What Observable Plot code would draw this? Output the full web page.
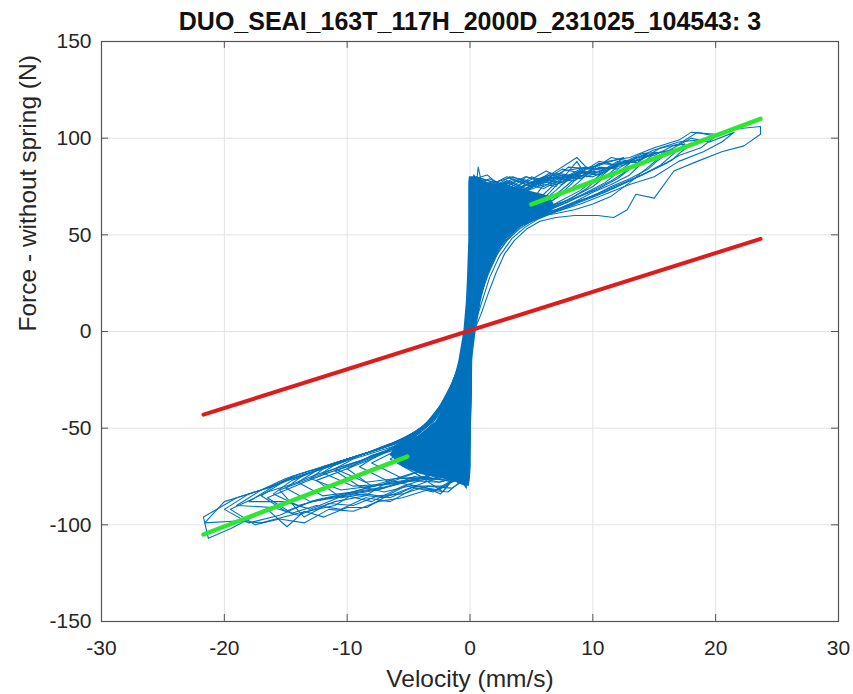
<!DOCTYPE html>
<html><head><meta charset="utf-8">
<script src="https://cdn.jsdelivr.net/npm/d3@7"></script>
<script src="https://cdn.jsdelivr.net/npm/@observablehq/plot@0.6"></script>
<style>html,body{margin:0;padding:0;background:#fff;} svg{display:block}</style>
</head><body><div id="chart"></div>
<script>
const title = "DUO_SEAI_163T_117H_2000D_231025_104543: 3";
const xLabel = "Velocity (mm/s)";
const yLabel = "Force - without spring (N)";
const xTicks = [-30, -20, -10, 0, 10, 20, 30];
const yTicks = [-150, -100, -50, 0, 50, 100, 150];

// measured cycles: flat [velocity, force, velocity, force, ...]
const cycle1 = [-0.2,-75, 0,-20, 0.15,45, 0.4,79, 1.4,81, 2.5,75, 3.5,78, 4.9,77, 6.5,81, 8.7,90, 9.6,84, 11.2,88, 13,90, 15,95, 17,99, 18,103, 20,102, 22,105, 23.65,106,
 23.65,102, 22.3,96, 20.5,93, 18.5,88, 16.6,83, 15,69, 13.5,71, 12.8,63, 11.7,59, 10.4,60, 8.5,60, 7,59, 5.7,57,
 4.6,53, 3.6,47, 2.8,40, 2.1,30, 1.5,20, 0.9,9, 0.3,0, -0.3,-9, -1,-21, -1.9,-33, -2.9,-43, -4,-50, -5.1,-54,
 -7,-60, -9,-64, -11,-69, -13,-72, -15,-76, -17,-82, -19,-86, -21.7,-96,
 -21.3,-107, -19.5,-102, -18,-97, -16.5,-92, -14.9,-101, -13.5,-93, -11.9,-96, -10,-91, -8.4,-91, -6.5,-84, -5,-79, -3.5,-81, -2.4,-84, -1.3,-76, -0.5,-78, -0.2,-75];
const cycle2 = [-0.1,-72, 0.05,-10, 0.2,60, 0.67,85, 1,75, 2.5,73, 4,79, 5.5,75, 7,82, 9,80, 10.5,87, 12,86, 14,92, 16,93, 18,100, 19.5,98, 21.5,103,
 20.5,98, 19,93, 17,88, 15,80, 13,76, 11,71, 9,66, 7,62, 5.5,58,
 4.5,54, 3.4,48, 2.4,39, 1.6,28, 1,16, 0.5,6, 0,-2, -0.6,-13, -1.4,-26, -2.4,-38, -3.5,-47, -4.8,-54,
 -6,-57, -8,-62, -10,-66, -12,-70, -14,-74, -16,-80, -18,-84, -20,-88, -21.6,-99,
 -19,-98, -17,-99, -14,-94, -11,-90, -9.5,-84, -7,-86, -4.5,-80, -2,-80, -0.8,-74, -0.1,-72];
const cycle3 = [-0.2,-70, 0,-5, 0.2,68, 0.4,77, 2,76, 3.5,73, 5,80, 6.5,77, 8,85, 10,84, 11.5,90, 13,88, 15,94, 17,97, 18.5,103, 20,101,
 18.8,95, 17,91, 16,87, 14,81, 12,75, 10,70, 8,65, 6,60, 5,57,
 4,53, 3,47, 2.1,39, 1.4,29, 0.8,17, 0.3,6, -0.2,-4, -0.7,-15, -1.5,-28, -2.5,-40, -3.6,-48, -5,-54,
 -6.5,-58, -8.5,-63, -10.5,-67, -12.5,-71, -14.5,-75, -16,-80, -18,-84, -20,-92,
 -18,-99, -15.5,-95, -13,-88, -10,-85, -8,-88, -5.5,-80, -3,-75, -1.5,-78, -0.5,-73, -0.2,-70];
const cycle4 = [-0.1,-76, 0,-40, 0.1,30, 0.3,80, 1.5,72, 3,76, 4.5,72, 6,79, 7.5,76, 9,83, 10.5,81, 12,87, 14,89, 15.5,95, 17,98, 18.5,99,
 17.2,93, 16.5,89, 15,84, 13,78, 11,72, 9,67, 7,62, 5,58,
 4,54, 3.1,48, 2.3,41, 1.5,30, 0.9,19, 0.4,8, -0.1,-1, -0.7,-14, -1.6,-29, -2.6,-41, -3.6,-49, -5,-55,
 -7,-60, -9,-64, -11,-68, -13,-73, -15,-77, -17,-82, -19,-90,
 -16,-91, -14,-95, -11,-88, -8.5,-85, -6.5,-77, -4.5,-80, -2,-74, -0.4,-78, -0.1,-76];
const cycle5 = [-0.2,-74, 0,-15, 0.2,55, 0.5,76, 1.5,71, 3,77, 4.5,73, 6,78, 7.5,81, 9,79, 10.5,85, 12,84, 13.5,90, 15,91, 16.5,96, 17.5,97,
 16.4,91, 15.5,86, 14,81, 12.5,77, 11,73, 9.5,69, 8,65, 6.5,62, 5,59,
 4,55, 3.1,50, 2.2,42, 1.5,32, 0.9,20, 0.4,9, 0,0, -0.5,-11, -1.2,-24, -2.1,-36, -3.2,-46, -4.5,-52,
 -6,-57, -8,-62, -10,-66, -12,-71, -14,-75, -16,-80, -18,-88,
 -15,-88, -13,-92, -10,-84, -7,-81, -4.5,-75, -2.5,-78, -0.2,-74];
const cycle6 = [-0.1,-71, 0.1,0, 0.2,70, 0.4,78, 1.5,75, 3,71, 4.5,76, 6,74, 7.5,79, 9,82, 10.5,83, 12,87, 13.5,88, 15,92, 16.5,94,
 15.2,88, 14.5,84, 13,79, 11.5,75, 10,70, 8.5,67, 7,63, 5.5,60, 4.5,57,
 3.6,53, 2.7,47, 1.9,39, 1.2,27, 0.6,14, 0.1,3, -0.4,-8, -1,-20, -1.8,-32, -2.8,-43, -4,-51,
 -5.5,-56, -7,-60, -9,-64, -11,-69, -13,-73, -15,-77, -17,-85,
 -15,-93, -12.5,-87, -9.5,-83, -7,-78, -4.5,-73, -2.2,-83, -1,-73, -0.1,-71];
const cycle7 = [-0.2,-73, 0,-25, 0.1,40, 0.3,81, 1.2,72, 2.5,77, 4,72, 5.5,77, 7,75, 8.7,88, 9.5,80, 11,84, 12.5,86, 14,90, 15,92,
 13.8,86, 13,81, 11.5,76, 10,72, 8.5,67, 7,63, 5.8,60, 4.8,57,
 3.9,54, 3,49, 2.2,42, 1.5,32, 0.8,18, 0.2,5, -0.3,-6, -0.9,-18, -1.7,-31, -2.7,-42, -3.8,-50, -5,-55,
 -6.5,-59, -8.5,-63, -10.5,-68, -12.5,-72, -14.5,-77, -16,-84,
 -14,-90, -11.5,-86, -9,-82, -6.5,-78, -4,-72, -2,-76, -0.5,-76, -0.2,-73];
const cycle8 = [-0.1,-77, 0.1,-30, 0.2,35, 0.5,80, 1.5,76, 3,72, 4.5,78, 6,75, 7.5,80, 9,82, 10.5,81, 12,86, 14,89,
 12.8,83, 12,79, 10.5,74, 9,70, 7.5,66, 6,62, 4.8,59,
 3.8,55, 2.9,50, 2.1,43, 1.4,33, 0.8,21, 0.3,8, -0.2,-3, -0.7,-15, -1.4,-28, -2.3,-39, -3.4,-48, -4.7,-54,
 -6,-58, -8,-62, -10,-66, -12,-71, -13.5,-74, -15,-81,
 -13,-88, -10.5,-85, -7.5,-82, -5,-77, -2.5,-78, -0.5,-74, -0.1,-77];
const cycle9 = [-0.2,-70, 0,-10, 0.2,62, 0.4,75, 1.5,73, 3,78, 4.5,74, 6,79, 7.5,77, 9,83, 10.5,82, 12,88, 13,87,
 11.8,81, 11,77, 9.5,72, 8,67, 6.5,63, 5,59,
 4,55, 3,49, 2.2,42, 1.4,31, 0.8,19, 0.3,7, -0.1,-3, -0.6,-14, -1.3,-27, -2.2,-38, -3.2,-47, -4.5,-53,
 -6,-57, -8,-62, -10,-66, -12,-70, -14,-78,
 -12,-85, -9.5,-83, -6.5,-80, -4,-76, -2,-72, -0.6,-75, -0.2,-70];
const cycle10 = [-0.1,-74, 0.1,-20, 0.2,50, 0.3,77, 1.5,71, 3,75, 4.3,72, 5.5,76, 7,79, 8.5,78, 10,84, 12,85,
 10.8,79, 10,75, 8.5,70, 7,65, 5.5,61, 4.3,57,
 3.4,53, 2.6,47, 1.8,38, 1.1,26, 0.5,12, 0,1, -0.4,-9, -1,-21, -1.8,-33, -2.8,-44, -4,-51,
 -5.5,-56, -7.5,-61, -9.5,-65, -11.5,-69, -13,-76,
 -10.5,-82, -8,-80, -5.5,-78, -3,-74, -1.2,-70, -0.1,-74];
const cycle11 = [-0.2,-78, 0,-45, 0.1,25, 0.3,73, 1.2,76, 2.5,70, 4,74, 5.5,78, 7,76, 8.5,81, 10,80, 11,83,
 9.8,77, 9,73, 7.5,68, 6,63, 4.8,59, 3.8,56,
 3,52, 2.3,46, 1.6,37, 1,25, 0.5,13, 0.1,3, -0.3,-7, -0.8,-18, -1.5,-30, -2.4,-41, -3.5,-49, -4.8,-55,
 -6.5,-59, -8.5,-63, -10.5,-67, -12,-73,
 -9.5,-80, -7,-79, -4.5,-77, -2.5,-73, -0.6,-79, -0.2,-78];
const cycle12 = [-0.1,-68, 0.1,10, 0.2,72, 0.4,79, 1.5,74, 3,77, 4.5,73, 6,78, 7.5,80, 8.7,79, 10,84,
 8.8,77, 8,73, 6.5,67, 5.2,62, 4,58,
 3.1,53, 2.3,46, 1.5,36, 0.8,22, 0.3,8, -0.1,-2, -0.6,-14, -1.3,-27, -2.2,-39, -3.2,-47, -4.5,-54,
 -6,-59, -8,-63, -9.5,-66, -11,-71,
 -8.5,-78, -6,-76, -3.5,-75, -2,-70, -0.8,-74, -0.1,-68];
const cycle13 = [-0.3,-81, -0.2,-50, 0,10, 0.2,66, 0.4,74, 2,78, 3.5,73, 5,77, 6.5,80, 8,78, 9,82,
 7.8,75, 7,71, 5.5,65, 4.5,61, 3.5,57,
 2.8,53, 2,46, 1.3,36, 0.7,22, 0.2,6, -0.2,-4, -0.7,-16, -1.4,-29, -2.3,-40, -3.3,-48, -4.5,-54,
 -6,-60, -8,-64, -10,-71,
 -8,-80, -5.5,-78, -3,-76, -1.2,-72, -0.3,-81];
const cycle14 = [-0.1,-75, 0.1,-35, 0.2,20, 0.3,68, 0.5,79, 2,74, 3.5,79, 5,75, 6.5,81, 8,79,
 7,73, 6.2,69, 5,64, 4,60, 3,56,
 2.3,51, 1.6,43, 1,32, 0.5,18, 0.1,5, -0.2,-5, -0.6,-17, -1.2,-30, -2,-42, -3,-50, -4.2,-56,
 -5.5,-60, -7.5,-64, -9,-70,
 -6.5,-78, -4,-76, -1.5,-77, -0.1,-75];
const cycle15 = [-0.2,-72, 0,-30, 0.15,40, 0.35,76, 1.5,73, 3,78, 4.5,74, 6,79, 7,77,
 6,71, 5.2,67, 4,62, 3,57,
 2.3,51, 1.6,42, 1,31, 0.5,17, 0.1,4, -0.2,-5, -0.6,-15, -1.2,-27, -2,-38, -3,-47, -4,-54,
 -5.5,-60, -8,-68,
 -5.5,-76, -3,-76, -0.7,-75, -0.2,-72];
const cycle16 = [-0.1,-74, 0.1,-20, 0.2,50, 0.3,77, 1.5,71, 3,75, 4.3,72, 6,76,
 5.2,69, 4.4,65, 3.3,60, 2.4,54,
 1.8,47, 1.2,38, 0.7,26, 0.3,14, 0,3, -0.3,-8, -0.7,-20, -1.3,-33, -2.2,-45, -3.3,-53, -4.5,-59,
 -6.5,-66,
 -4,-75, -2,-77, -0.8,-72, -0.1,-74];
const cycle17 = [-0.2,-78, 0,-45, 0.1,25, 0.3,73, 1.2,76, 2.5,70, 4.5,74,
 3.8,67, 3,62, 2.1,56,
 1.5,49, 1,39, 0.6,26, 0.3,12, 0,2, -0.2,-10, -0.5,-23, -1,-36, -1.7,-47, -2.8,-56, -4,-61, -5,-66,
 -3.5,-75, -2.2,-71, -1,-78, -0.2,-78];
const cycle18 = [-0.1,-68, 0.1,10, 0.2,72, 0.4,79, 1.5,74, 3,77,
 2.4,69, 1.9,63, 1.3,55,
 0.9,45, 0.6,33, 0.3,20, 0.1,8, -0.1,-4, -0.3,-17, -0.6,-31, -1.1,-44, -1.8,-55, -3,-63, -3.5,-68,
 -2,-76, -0.8,-71, -0.1,-68];
const cycle19 = [-0.1,-73, 0.1,-5, 0.25,70, 0.5,80, 2,77, 3.5,80, 5,76, 6.5,82, 8,80, 9.5,85, 11,83, 12.5,88, 14,87, 16,93,
 14.5,85, 13,77, 11.5,70, 10,66, 8.5,63, 7,61, 6,60, 5,58,
 4.2,55, 3.3,50, 2.5,44, 1.8,36, 1.1,24, 0.5,11, 0,0, -0.5,-11, -1.1,-23, -1.9,-35, -2.9,-45, -4.1,-52,
 -5.5,-58, -7.5,-64, -9.5,-69, -11.5,-73, -13.5,-78, -16.5,-86,
 -14.5,-94, -12.5,-90, -10.5,-92, -8.5,-86, -6.5,-88, -4.5,-81, -2.8,-82, -1.5,-77, -0.1,-73];
const cycle20 = [-0.2,-76, 0,-35, 0.2,45, 0.4,78, 1.8,74, 3.2,80, 4.8,78, 6.2,83, 7.5,79, 9,84, 10.5,86, 12.5,90,
 11,82, 9.5,74, 8,68, 6.5,64, 5.2,61, 4.2,58,
 3.4,54, 2.6,49, 1.9,41, 1.2,30, 0.6,16, 0.1,3, -0.4,-8, -1,-20, -1.8,-33, -2.8,-44, -4,-52, -5.5,-57,
 -7,-62, -9,-67, -11,-71, -13,-76, -15.5,-82,
 -13.5,-96, -11.5,-89, -9.5,-90, -7.5,-85, -5.5,-84, -3.5,-80, -1.5,-81, -0.2,-76];
const cycle21 = [-0.1,-70, 0.1,5, 0.2,66, 0.4,76, 1.6,79, 3.2,74, 4.6,80, 6,77, 7.6,83, 9.5,85,
 8.2,76, 7,69, 5.8,64, 4.8,60, 3.8,57,
 3,53, 2.2,47, 1.5,38, 0.9,26, 0.4,12, 0,1, -0.4,-10, -1,-22, -1.8,-35, -2.9,-46, -4.2,-53,
 -6,-60, -8,-66, -10,-71, -12.5,-77,
 -10.5,-86, -8.5,-84, -6.5,-86, -4.5,-80, -2.5,-82, -1,-75, -0.1,-70];
const cycle22 = [-0.2,-75, 0,-20, 0.15,58, 0.35,80, 1.5,78, 3,75, 4.5,80, 6,78, 7.5,84, 9,82, 10.5,88, 12,86, 14.5,92,
 13,84, 11.5,78, 10,73, 8.5,69, 7,66, 5.5,62, 4.5,59,
 3.6,55, 2.8,50, 2,43, 1.3,32, 0.7,19, 0.2,6, -0.3,-5, -0.9,-17, -1.6,-29, -2.6,-41, -3.7,-49, -5,-56,
 -6.5,-61, -8.5,-66, -11,-72,
 -9,-80, -7,-83, -5,-80, -3,-83, -1.5,-78, -0.2,-75];
const cycle23 = [-0.1,-74, 0.1,-25, 0.2,52, 0.4,78, 1.5,75, 3,80, 4.5,76, 6,80, 7.5,79,
 6.5,72, 5.5,66, 4.5,61, 3.5,57,
 2.8,53, 2.1,46, 1.4,36, 0.8,23, 0.3,8, -0.1,-2, -0.6,-14, -1.3,-27, -2.2,-39, -3.3,-48, -4.6,-55,
 -6.5,-61, -8.5,-66, -10.5,-70, -12.5,-74, -14.5,-79, -16.5,-83, -19.5,-92,
 -17.5,-100, -15.5,-97, -13.5,-99, -11.5,-92, -9.5,-93, -7.5,-88, -5.5,-86, -3.5,-82, -1.8,-83, -0.1,-74];

// dense core of the trace (force level, left and right velocity bounds)
const coreF     = [80, 77, 74, 70, 64, 59, 54, 47, 38, 28, 15, 0, -15, -28, -38, -47, -54, -59, -64, -70, -74, -77, -80];
const coreLeft  = [-0.05, -0.1, -0.1, -0.1, -0.1, -0.1, -0.1, -0.1, -0.15, -0.2, -0.3, -0.5, -0.9, -1.4, -2.0, -2.8, -4.2, -6.0, -6.5, -5.5, -4.0, -1.5, -0.4];
const coreRight = [0.4, 1.5, 4.0, 6.5, 7.0, 6.0, 4.2, 2.8, 2.0, 1.4, 0.9, 0.5, 0.2, 0.15, 0.1, 0.1, 0.1, 0.1, 0.1, 0.1, 0.05, 0.0, -0.05];

// fitted lines
const redV = [-21.7, 23.65], redF = [-43, 47.9];
const greenUpperV = [5.0, 23.65], greenUpperF = [65.7, 110];
const greenLowerV = [-21.7, -5.1], greenLowerF = [-105, -64.7];

const cycles = [cycle1, cycle2, cycle3, cycle4, cycle5, cycle6, cycle7, cycle8, cycle9, cycle10, cycle11, cycle12,
  cycle13, cycle14, cycle15, cycle16, cycle17, cycle18, cycle19, cycle20, cycle21, cycle22, cycle23];
const blue = cycles.flatMap((c, k) => d3.range(0, c.length, 2).map(i => ({v: c[i], F: c[i + 1], k})));
const core = coreF.map((F, i) => ({F, l: coreLeft[i], r: coreRight[i]}));
const toPts = (V, F) => V.map((v, i) => ({v, F: F[i]}));
const red = toPts(redV, redF);
const gU = toPts(greenUpperV, greenUpperF);
const gL = toPts(greenLowerV, greenLowerF);

const ink = "#262626";
const blueC = "#0072BD";
const fmt = d => String(d);
const chart = Plot.plot({
  width: 853, height: 694,
  marginLeft: 101, marginRight: 15, marginTop: 41, marginBottom: 73,
  x: {domain: [-30, 30]},
  y: {domain: [-150, 150]},
  style: {fontFamily: "'Liberation Sans', Arial, Helvetica, sans-serif", fontSize: "21px", color: ink, background: "#fff"},
  marks: [
    Plot.ruleX(xTicks, {stroke: "#e3e3e3", strokeWidth: 1}),
    Plot.ruleY(yTicks, {stroke: "#e3e3e3", strokeWidth: 1}),
    Plot.areaX(core, {y: "F", x1: "l", x2: "r", fill: blueC}),
    Plot.line(blue, {x: "v", y: "F", z: "k", stroke: blueC, strokeWidth: 1.1}),
    Plot.line(red, {x: "v", y: "F", stroke: "#dd1d1d", strokeWidth: 4}),
    Plot.line(gU, {x: "v", y: "F", stroke: "#2ee62e", strokeWidth: 4.5}),
    Plot.line(gL, {x: "v", y: "F", stroke: "#2ee62e", strokeWidth: 4.5}),
    Plot.frame({stroke: "#555", strokeWidth: 1.2}),
    Plot.ruleX(xTicks, {y1: -150, y2: -146.4, stroke: "#555"}),
    Plot.ruleX(xTicks, {y1: 150, y2: 146.4, stroke: "#555"}),
    Plot.ruleY(yTicks, {x1: -30, x2: -29.43, stroke: "#555"}),
    Plot.ruleY(yTicks, {x1: 30, x2: 29.43, stroke: "#555"}),
    Plot.axisX({ticks: xTicks, tickFormat: fmt, tickSize: 0, tickPadding: 19, label: null, fontSize: 21, fill: ink}),
    Plot.axisY({ticks: yTicks, tickFormat: fmt, tickSize: 0, tickPadding: 10, label: null, fontSize: 21, fill: ink}),
    Plot.text([title], {frameAnchor: "top", dy: -11.7, lineAnchor: "bottom", fontSize: 25, fontWeight: "bold", fill: "#111"}),
    Plot.text([xLabel], {frameAnchor: "bottom", dy: 65.7, lineAnchor: "bottom", fontSize: 24.5, fill: ink}),
    Plot.text([yLabel], {frameAnchor: "left", dx: -66, rotate: -90, lineAnchor: "bottom", fontSize: 24.5, fill: ink})
  ]
});
document.getElementById("chart").append(chart);
</script>
</body></html>
